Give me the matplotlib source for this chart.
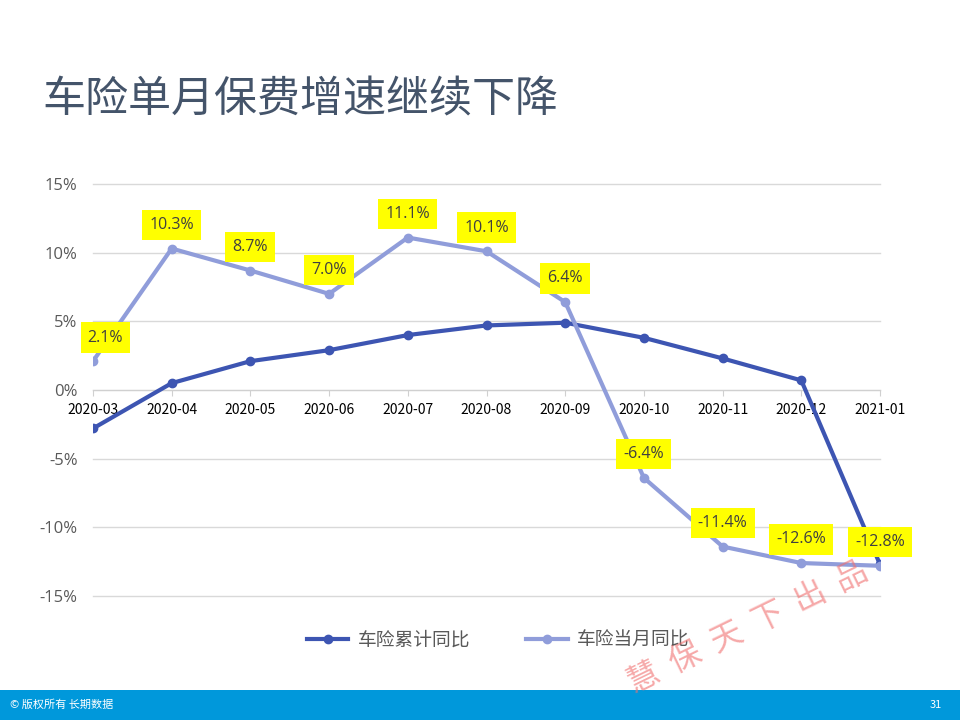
import matplotlib
matplotlib.use("Agg")
import matplotlib.pyplot as plt
from matplotlib.patches import Rectangle

plt.rcParams["font.family"] = ["Noto Sans CJK SC", "DejaVu Sans"]
NUMFONT = ["Open Sans", "DejaVu Sans"]

months = ["2020-03", "2020-04", "2020-05", "2020-06", "2020-07", "2020-08",
          "2020-09", "2020-10", "2020-11", "2020-12", "2021-01"]
cumulative = [-2.8, 0.5, 2.1, 2.9, 4.0, 4.7, 4.9, 3.8, 2.3, 0.7, -12.7]
monthly = [2.1, 10.3, 8.7, 7.0, 11.1, 10.1, 6.4, -6.4, -11.4, -12.6, -12.8]
yticks = [-15, -10, -5, 0, 5, 10, 15]

DARK = "#3D55B2"
LIGHT = "#909DDA"
GRAY = "#595959"

fig = plt.figure(figsize=(9.6, 7.2), dpi=100)
ax = fig.add_axes([93 / 960, 1 - 596 / 720, (880 - 93) / 960, (596 - 184) / 720])

x = list(range(len(months)))
ax.plot(x, cumulative, "-o", color=DARK, lw=3, ms=6, label="车险累计同比", zorder=3)
ax.plot(x, monthly, "-o", color=LIGHT, lw=3, ms=6, label="车险当月同比", zorder=4)

for i, v in enumerate(monthly):
    dx = 9 if i == 0 else 0
    ax.annotate(f"{v:.1f}%", (i, v), xytext=(dx, 17), textcoords="offset points",
                ha="center", va="center", fontsize=11.5, color="#404040", family=NUMFONT,
                bbox=dict(boxstyle="square,pad=0.45", fc="#FFFF00", ec="none"),
                zorder=5)

ax.set_xlim(0, 10)
ax.set_ylim(-15, 15)
ax.set_yticks(yticks)
ax.set_yticklabels([f"{t}%" for t in yticks], fontsize=12, color=GRAY, family=NUMFONT)
ax.set_xticks(x)
ax.set_xticklabels(months, fontsize=12, color=GRAY, family=NUMFONT)
ax.grid(axis="y", color="#D9D9D9", lw=1)
for gl in ax.get_ygridlines():
    gl.set_clip_on(False)
ax.set_axisbelow(True)
for s in ["top", "right", "left"]:
    ax.spines[s].set_visible(False)
ax.spines["bottom"].set_position(("data", 0))
ax.spines["bottom"].set_color("#D0D0D0")
ax.tick_params(axis="x", length=4, color="#D0D0D0", pad=5)
ax.tick_params(axis="y", length=0, pad=11)

leg = ax.legend(loc="upper center", bbox_to_anchor=(0.515, -0.04), ncol=2, frameon=False,
                fontsize=13.5, handlelength=2.2, handletextpad=0.5, columnspacing=3)
for t in leg.get_texts():
    t.set_color(GRAY)

fig.text(42 / 960, 1 - 100 / 720, "车险单月保费增速继续下降", fontsize=31,
         color="#44546A", va="center", ha="left")

fig.patches.append(Rectangle((0, 0), 1, 30 / 720, transform=fig.transFigure,
                             fc="#0098DB", ec="none"))
fig.text(10 / 960, 15 / 720, "© 版权所有 长期数据", fontsize=8, color="white",
         va="center", ha="left")
fig.text(942 / 960, 15 / 720, "31", fontsize=8, color="white",
         va="center", ha="right")

fig.text(748 / 960, 1 - 628 / 720, "慧  保  天  下  出  品", fontsize=23,
         color="#F07070", alpha=0.6, rotation=26, ha="center", va="center")

fig.savefig("out.png", dpi=100)
